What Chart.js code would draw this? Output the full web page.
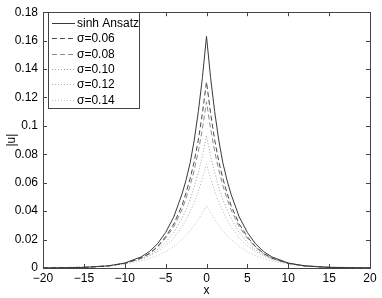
<!DOCTYPE html>
<html lang="en">
<head>
    <meta charset="UTF-8">
    <title>|u| profiles</title>
    <script src="https://cdn.jsdelivr.net/npm/chart.js@4.4.1/dist/chart.umd.min.js"></script>
    <style>
        body { margin: 0; padding: 0; background-color: #fff; }
        .chart-container { width: 382px; height: 298px; }
    </style>
</head>
<body>
    <div class="chart-container">
        <canvas id="uChart" width="382" height="298"></canvas>
    </div>

    <script>
        // x positions shared by every curve
        const xs = [-20, -15, -12, -10, -8, -7, -6, -5, -4, -3, -2.5, -2, -1.5, -1, -0.5, 0,
                    0.5, 1, 1.5, 2, 2.5, 3, 4, 5, 6, 7, 8, 10, 12, 15, 20];

        const seriesLabels = ['sinh Ansatz', 'σ=0.06', 'σ=0.08', 'σ=0.10', 'σ=0.12', 'σ=0.14'];

        const sinhAnsatz = [0.00005, 0.0004, 0.0015, 0.0035, 0.0078, 0.0115, 0.017, 0.025, 0.036, 0.052, 0.062, 0.074, 0.090, 0.110, 0.134, 0.163,
                            0.134, 0.110, 0.090, 0.074, 0.062, 0.052, 0.036, 0.025, 0.017, 0.0115, 0.0078, 0.0035, 0.0015, 0.0004, 0.00005];
        const sigma006 = [0.00005, 0.0004, 0.0014, 0.0032, 0.0070, 0.0102, 0.0150, 0.022, 0.031, 0.044, 0.053, 0.063, 0.075, 0.090, 0.109, 0.131,
                          0.109, 0.090, 0.075, 0.063, 0.053, 0.044, 0.031, 0.022, 0.0150, 0.0102, 0.0070, 0.0032, 0.0014, 0.0004, 0.00005];
        const sigma008 = [0.0001, 0.0005, 0.0015, 0.0033, 0.0069, 0.0100, 0.0146, 0.021, 0.029, 0.041, 0.049, 0.058, 0.069, 0.082, 0.098, 0.117,
                          0.098, 0.082, 0.069, 0.058, 0.049, 0.041, 0.029, 0.021, 0.0146, 0.0100, 0.0069, 0.0033, 0.0015, 0.0005, 0.0001];
        const sigma010 = [0.0001, 0.0005, 0.0015, 0.0031, 0.0064, 0.0091, 0.0128, 0.018, 0.025, 0.035, 0.041, 0.048, 0.057, 0.067, 0.079, 0.093,
                          0.079, 0.067, 0.057, 0.048, 0.041, 0.035, 0.025, 0.018, 0.0128, 0.0091, 0.0064, 0.0031, 0.0015, 0.0005, 0.0001];
        const sigma012 = [0.0001, 0.0006, 0.0017, 0.0032, 0.0061, 0.0084, 0.0115, 0.0157, 0.021, 0.029, 0.034, 0.040, 0.046, 0.054, 0.063, 0.073,
                          0.063, 0.054, 0.046, 0.040, 0.034, 0.029, 0.021, 0.0157, 0.0115, 0.0084, 0.0061, 0.0032, 0.0017, 0.0006, 0.0001];
        const sigma014 = [0.0002, 0.0007, 0.0016, 0.0029, 0.0050, 0.0066, 0.0087, 0.0115, 0.0152, 0.020, 0.023, 0.026, 0.030, 0.034, 0.039, 0.044,
                          0.039, 0.034, 0.030, 0.026, 0.023, 0.020, 0.0152, 0.0115, 0.0087, 0.0066, 0.0050, 0.0029, 0.0016, 0.0007, 0.0002];

        const xTicks = [-20, -15, -10, -5, 0, 5, 10, 15, 20];
        const yTicks = [0, 0.02, 0.04, 0.06, 0.08, 0.1, 0.12, 0.14, 0.16, 0.18];

        const allSeries = [sinhAnsatz, sigma006, sigma008, sigma010, sigma012, sigma014];
        const colors = ['#3a3a3a', '#4a4a4a', '#8a8a8a', '#a0a0a0', '#b0b0b0', '#c0c0c0'];
        const dashes = [[], [5, 3], [5, 3], [1, 2], [1, 2], [1, 2]];

        const FONT = 'Liberation Sans, Arial, sans-serif';

        // draws the box, the inward ticks on all four sides and the legend box
        const matlabFrame = {
            id: 'matlabFrame',
            afterDatasetsDraw(chart) {
                const { ctx, chartArea: a, scales } = chart;
                ctx.save();
                ctx.strokeStyle = '#444';
                ctx.lineWidth = 1;
                ctx.setLineDash([]);
                ctx.strokeRect(Math.round(a.left) + 0.5, Math.round(a.top) + 0.5,
                    Math.round(a.right - a.left), Math.round(a.bottom - a.top));
                const t = 4;
                ctx.beginPath();
                xTicks.forEach(v => {
                    const px = Math.round(scales.x.getPixelForValue(v)) + 0.5;
                    ctx.moveTo(px, a.bottom); ctx.lineTo(px, a.bottom - t);
                    ctx.moveTo(px, a.top); ctx.lineTo(px, a.top + t);
                });
                yTicks.forEach(v => {
                    const py = Math.round(scales.y.getPixelForValue(v)) + 0.5;
                    ctx.moveTo(a.left, py); ctx.lineTo(a.left + t, py);
                    ctx.moveTo(a.right, py); ctx.lineTo(a.right - t, py);
                });
                ctx.stroke();

                // legend
                const lx = 48, ly = 12, lw = 91, lh = 96;
                ctx.fillStyle = '#fff';
                ctx.fillRect(lx, ly, lw, lh);
                ctx.strokeStyle = '#444';
                ctx.strokeRect(lx + 0.5, ly + 0.5, lw, lh);
                ctx.font = '12px ' + FONT;
                ctx.textBaseline = 'middle';
                ctx.textAlign = 'left';
                chart.data.datasets.forEach((ds, i) => {
                    const y = Math.round(ly + 11 + i * 15.3) + 0.5;
                    ctx.strokeStyle = ds.borderColor;
                    ctx.setLineDash(ds.borderDash);
                    ctx.beginPath();
                    ctx.moveTo(52, y); ctx.lineTo(75, y);
                    ctx.stroke();
                    ctx.setLineDash([]);
                    ctx.fillStyle = '#000';
                    ctx.fillText(ds.label, 77, y);
                });
                ctx.restore();
            }
        };

        const ctx = document.getElementById('uChart').getContext('2d');
        new Chart(ctx, {
            type: 'line',
            data: {
                datasets: allSeries.map((s, i) => ({
                    label: seriesLabels[i],
                    data: s.map((v, j) => ({ x: xs[j], y: v })),
                    borderColor: colors[i],
                    borderDash: dashes[i],
                    borderWidth: 1,
                    pointRadius: 0,
                    tension: 0,
                    fill: false
                }))
            },
            options: {
                responsive: false,
                animation: false,
                layout: { padding: { left: 4, top: 10, right: 12, bottom: 0 } },
                plugins: { legend: { display: false }, tooltip: { enabled: false } },
                scales: {
                    x: {
                        type: 'linear',
                        min: -20, max: 20,
                        afterBuildTicks: s => { s.ticks = xTicks.map(v => ({ value: v })); },
                        afterFit: s => { s.height = 30; },
                        grid: { display: false, drawTicks: false },
                        border: { display: false },
                        ticks: {
                            color: '#000', padding: 3,
                            font: { family: FONT, size: 12 },
                            maxRotation: 0,
                            callback: v => String(v).replace('-', '\u2212')
                        },
                        title: { display: true, text: 'x', color: '#000', padding: 0,
                                 font: { family: FONT, size: 12 } }
                    },
                    y: {
                        min: 0, max: 0.18,
                        afterBuildTicks: s => { s.ticks = yTicks.map(v => ({ value: v })); },
                        afterFit: s => { s.width = 39; },
                        grid: { display: false, drawTicks: false },
                        border: { display: false },
                        ticks: {
                            color: '#000', padding: 5,
                            font: { family: FONT, size: 12 },
                            callback: v => String(v)
                        },
                        title: { display: true, text: '|u|', color: '#000', padding: 0,
                                 font: { family: FONT, size: 12 } }
                    }
                }
            },
            plugins: [matlabFrame]
        });
    </script>
</body>
</html>
